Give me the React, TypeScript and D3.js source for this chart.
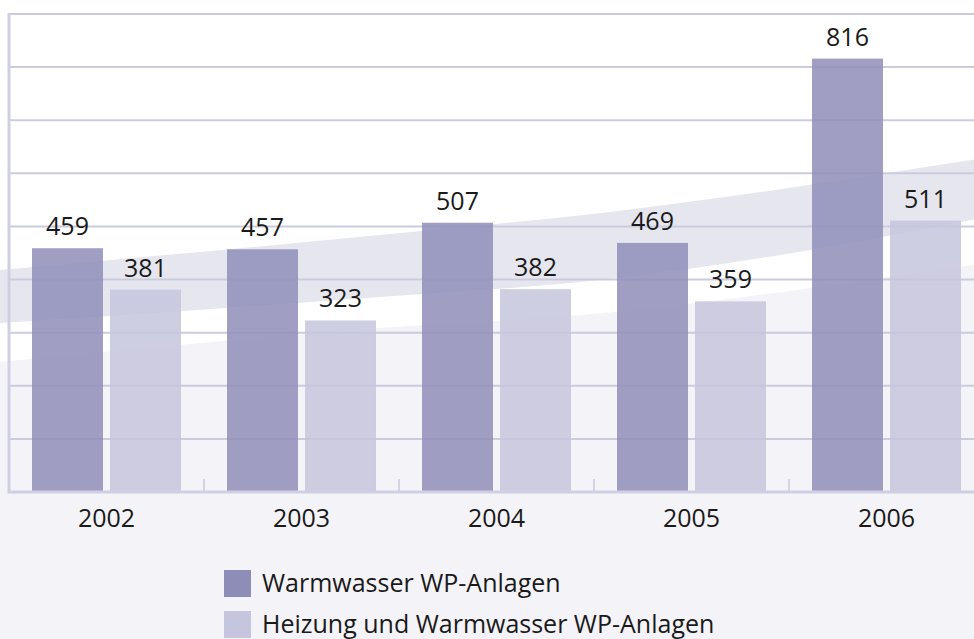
import React, { useEffect, useRef } from "react";
import * as d3 from "d3";

const years = ["2002", "2003", "2004", "2005", "2006"];
const warmwasser = [459, 457, 507, 469, 816];
const heizung = [381, 323, 382, 359, 511];
const seriesNames = ["Warmwasser WP-Anlagen", "Heizung und Warmwasser WP-Anlagen"];
const seriesColors = ["#8e8db8", "#c5c5dd"];
const yTicks = [0, 100, 200, 300, 400, 500, 600, 700, 800, 900];

// background swoosh, x as fraction of width, y in value units
const swooshTop = [[0, 418], [0.39, 484], [0.62, 526], [1, 626]];
const swooshBottom = [[0, 318], [0.39, 367], [0.62, 400], [0.82, 452], [1, 513]];
const whiteEdge = [[0, 245], [0.39, 309], [0.62, 337], [0.82, 381], [1, 428]];

const W = 974;
const H = 639;
const FONT = "'Open Sans', 'Noto Sans', sans-serif";

function App() {
  const svgRef = useRef<SVGSVGElement>(null);

  useEffect(() => {
    const svg = d3.select(svgRef.current);
    svg.selectAll("*").remove();

    const left = 9;
    const y = d3.scaleLinear().domain([0, 900]).range([492, 14]);
    const x0 = d3.scaleBand().domain(years).range([left, left + 195 * 5]);
    const x1 = d3
      .scaleBand()
      .domain(["w", "h"])
      .range([0, x0.bandwidth()])
      .paddingInner(7 / 78)
      .paddingOuter(0.295);
    const fx = d3.scaleLinear().domain([0, 1]).range([0, W]);

    // page background
    svg.append("rect").attr("width", W).attr("height", H).attr("fill", "#f4f3f8");

    const curve = d3
      .line<number[]>()
      .x((d) => fx(d[0]))
      .y((d) => y(d[1]))
      .curve(d3.curveMonotoneX);

    // white area above the lower edge
    svg
      .append("path")
      .attr("d", `M0,0 L${W},0 L` + curve(whiteEdge.slice().reverse())!.slice(1) + " Z")
      .attr("fill", "#ffffff");

    // lavender band
    svg
      .append("path")
      .attr("d", curve(swooshTop)! + "L" + curve(swooshBottom.slice().reverse())!.slice(1) + "Z")
      .attr("fill", "#e6e6ef");

    // grid lines
    svg
      .append("g")
      .selectAll("line")
      .data(yTicks.slice(1))
      .join("line")
      .attr("x1", left)
      .attr("x2", W)
      .attr("y1", (d) => y(d))
      .attr("y2", (d) => y(d))
      .attr("stroke", "#cbcbe0")
      .attr("stroke-width", 2);

    // left axis
    svg
      .append("line")
      .attr("x1", left)
      .attr("x2", left)
      .attr("y1", y(900) - 1)
      .attr("y2", y(0) + 1)
      .attr("stroke", "#cfcfe3")
      .attr("stroke-width", 3);

    // category ticks
    svg
      .append("g")
      .selectAll("line")
      .data(years.slice(1))
      .join("line")
      .attr("x1", (d) => x0(d)!)
      .attr("x2", (d) => x0(d)!)
      .attr("y1", y(0) - 13)
      .attr("y2", y(0))
      .attr("stroke", "#c8c8de")
      .attr("stroke-width", 1.5);

    // bars
    const rows = years.map((yr, i) => ({
      year: yr,
      vals: [
        { key: "w", v: warmwasser[i], c: seriesColors[0] },
        { key: "h", v: heizung[i], c: seriesColors[1] },
      ],
    }));

    const groups = svg
      .append("g")
      .selectAll("g")
      .data(rows)
      .join("g")
      .attr("transform", (d) => `translate(${x0(d.year)},0)`);

    groups
      .selectAll("rect")
      .data((d) => d.vals)
      .join("rect")
      .attr("x", (d) => x1(d.key)!)
      .attr("width", x1.bandwidth())
      .attr("y", (d) => y(d.v))
      .attr("height", (d) => y(0) - y(d.v))
      .attr("fill", (d) => d.c)
      .attr("fill-opacity", 0.84);

    groups
      .selectAll("text")
      .data((d) => d.vals)
      .join("text")
      .attr("x", (d) => x1(d.key)! + x1.bandwidth() / 2)
      .attr("y", (d) => y(d.v) - 13)
      .attr("text-anchor", "middle")
      .attr("font-family", FONT)
      .attr("font-size", 25)
      .attr("fill", "#1a1a1a")
      .text((d) => d.v);

    // baseline
    svg
      .append("line")
      .attr("x1", left - 1)
      .attr("x2", W)
      .attr("y1", y(0))
      .attr("y2", y(0))
      .attr("stroke", "#cfcfe3")
      .attr("stroke-width", 3);

    // year labels
    svg
      .append("g")
      .selectAll("text")
      .data(years)
      .join("text")
      .attr("x", (d) => x0(d)! + x0.bandwidth() / 2)
      .attr("y", 527)
      .attr("text-anchor", "middle")
      .attr("font-family", FONT)
      .attr("font-size", 25)
      .attr("fill", "#1a1a1a")
      .text((d) => d);

    // legend
    const legend = svg
      .append("g")
      .selectAll("g")
      .data(seriesNames)
      .join("g")
      .attr("transform", (_d, i) => `translate(224,${570 + i * 41})`);

    legend
      .append("rect")
      .attr("width", 27)
      .attr("height", 27)
      .attr("fill", (_d, i) => seriesColors[i]);

    legend
      .append("text")
      .attr("x", 38)
      .attr("y", 22)
      .attr("font-family", FONT)
      .attr("font-size", 25)
      .attr("fill", "#1a1a1a")
      .text((d) => d);
  }, []);

  return (
    <div style={{ position: "absolute", left: 0, top: 0, width: W, height: H }}>
      <svg ref={svgRef} width={W} height={H} style={{ display: "block" }}></svg>
    </div>
  );
}

export default App;
